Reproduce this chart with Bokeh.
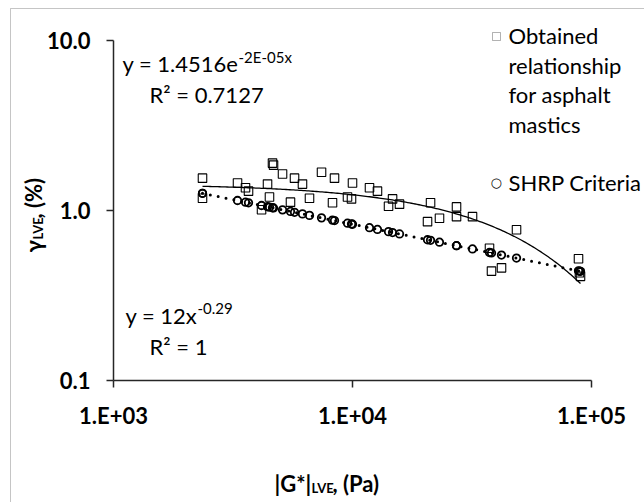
import numpy as np
from bokeh.plotting import figure
from bokeh.models import Label, FixedTicker, PolyAnnotation, Range1d
from bokeh.embed import file_html
from bokeh.resources import INLINE

# |G*| at the LVE limit (Pa) for each mastic sample
g_star = [2357, 2357, 3303, 3567, 3672, 4163, 4410, 4494, 4627, 4672,
          5096, 5502, 5720, 6176, 6608, 7420, 8248, 8408, 9530, 9904,
          10000, 11780, 12720, 14150, 14710, 15730, 20600, 21210, 23120, 27240,
          27240, 31780, 37430, 38160, 42020, 48560, 88230, 89050, 89940]

# measured strain at the LVE limit (%)
gamma_mastic = [1.55, 1.18, 1.45, 1.36, 1.30, 1.01, 1.43, 1.20, 1.90, 1.85,
                1.64, 1.12, 1.55, 1.43, 1.18, 1.68, 1.11, 1.55, 1.20, 1.17,
                1.45, 1.36, 1.30, 1.06, 1.17, 1.09, 0.86, 1.11, 0.90, 1.05,
                0.92, 0.92, 0.60, 0.44, 0.46, 0.77, 0.52, 0.43, 0.41]

# SHRP criterion strain (%) at the same moduli
gamma_shrp = [1.262, 1.262, 1.145, 1.119, 1.110, 1.070, 1.053, 1.047, 1.038, 1.035,
              1.009, 0.987, 0.976, 0.955, 0.936, 0.905, 0.878, 0.873, 0.842, 0.833,
              0.830, 0.792, 0.774, 0.751, 0.742, 0.728, 0.673, 0.668, 0.651, 0.621,
              0.621, 0.594, 0.566, 0.563, 0.547, 0.525, 0.442, 0.440, 0.439]

x_ticks = [1e3, 1e4, 1e5]
x_tick_labels = ["1.E+03", "1.E+04", "1.E+05"]
y_ticks = [0.1, 1.0, 10.0]
y_tick_labels = ["0.1", "1.0", "10.0"]

FONT = "Lato"
INK = "#000000"
W, H = 644, 502

# The plotting frame spans the whole canvas so that the legend, equations and
# axis titles can sit anywhere; the axes are pinned to the decade bounds.
# Axis placement: 1e3..1e5 over x = 113..591 px, 10..0.1 over y = 40..380 px.
X0, DEC_X = 113, 239.0
Y_ONE, DEC_Y = 210, 170.0
x_lo = 10 ** (3 - X0 / DEC_X)
x_hi = 10 ** (3 + (W - X0) / DEC_X)
y_hi = 10 ** (Y_ONE / DEC_Y)
y_lo = 10 ** ((Y_ONE - H) / DEC_Y)

p = figure(width=W, height=H, x_axis_type="log", y_axis_type="log",
           x_range=Range1d(x_lo, x_hi), y_range=Range1d(y_lo, y_hi),
           output_backend="svg", toolbar_location=None,
           min_border=0)
p.outline_line_color = None
p.xgrid.grid_line_color = None
p.ygrid.grid_line_color = None
p.background_fill_color = "white"
p.border_fill_color = "white"

for ax, ticks, labels in ((p.xaxis[0], x_ticks, x_tick_labels),
                          (p.yaxis[0], y_ticks, y_tick_labels)):
    ax.ticker = FixedTicker(ticks=ticks, minor_ticks=[])
    ax.major_label_overrides = dict(zip(ticks, labels))
    ax.bounds = (ticks[0], ticks[-1])
    ax.axis_line_color = "#262626"
    ax.axis_line_width = 1.5
    ax.major_tick_line_color = "#262626"
    ax.major_tick_line_width = 1.5
    ax.major_tick_in = 0
    ax.major_tick_out = 7
    ax.minor_tick_line_color = None
    ax.major_label_text_font = FONT
    ax.major_label_text_font_style = "bold"
    ax.major_label_text_font_size = "22px"
    ax.major_label_text_color = INK
p.xaxis.fixed_location = y_ticks[0]
p.yaxis.fixed_location = x_ticks[0]
p.xaxis.major_label_standoff = 14
p.yaxis.major_label_standoff = 16

# labels render a little below their nominal baseline; compensate
SHIFT = 9


def label(px, py, text, size, bold=False, angle=0.0, font=FONT):
    """Text whose baseline starts at canvas pixel (px, py)."""
    if angle:
        px -= SHIFT
    else:
        py -= SHIFT
    p.add_layout(Label(x=px, y=H - py, x_units="screen", y_units="screen",
                       text=text, text_font=font, text_font_size=f"{size}px",
                       text_font_style="bold" if bold else "normal",
                       text_align="left", text_baseline="alphabetic",
                       angle=angle, text_color=INK))


def outline(pxs, pys, width=1.0, color="#404040"):
    p.add_layout(PolyAnnotation(xs=list(pxs), ys=[H - v for v in pys],
                                xs_units="screen", ys_units="screen",
                                fill_color=None, line_color=color, line_width=width))


# chart-area border (left and top edges)
outline([10, 10, 900, 900], [900, 8, 8, 900])

# fitted trendlines
xs = np.asarray(g_star, dtype=float)
b_exp, ln_a = np.polyfit(xs, np.log(gamma_mastic), 1)
b_pow, ln_c = np.polyfit(np.log(xs), np.log(gamma_shrp), 1)
xfit = np.logspace(np.log10(xs.min()), np.log10(xs.max()), 200)
p.line(xfit, np.exp(ln_a) * np.exp(b_exp * xfit), line_color=INK, line_width=1.3)
p.line(xfit, np.exp(ln_c) * xfit ** b_pow, line_color=INK, line_width=3,
       line_dash="0 8", line_cap="round")

p.scatter(g_star, gamma_mastic, marker="square", size=8.5, fill_color=None,
          line_color=INK, line_width=1.1)
p.scatter(g_star, gamma_shrp, marker="circle", size=7.5, fill_color=None,
          line_color=INK, line_width=1.8)

# trendline equations
label(122, 72, "y = 1.4516e", 22)
label(238, 65, "-2E-05x", 15)
label(149, 103, "R² = 0.7127", 22)
label(125, 324, "y = 12x", 22)
label(197, 317, "-0.29", 15)
label(149, 355, "R² = 1", 22)

# legend
hw = 4
outline([496 - hw, 496 + hw, 496 + hw, 496 - hw], [36 - hw, 36 - hw, 36 + hw, 36 + hw],
        color=INK)
label(490, 191, "○", 13, bold=True, font="DejaVu Sans")
label(508, 44, "Obtained", 22)
label(508, 74, "relationship", 22)
label(508, 103, "for asphalt", 22)
label(508, 133, "mastics", 22)
label(508, 191, "SHRP Criteria", 22)

# axis titles
label(274, 492, "|G*|", 22, bold=True)
label(311, 496, "LVE", 13, bold=True)
label(332, 492, ", (Pa)", 22, bold=True)
label(42, 252, "γ", 22, bold=True, angle=np.pi / 2)
label(46, 239, "LVE", 13, bold=True, angle=np.pi / 2)
label(42, 218, ", (%)", 22, bold=True, angle=np.pi / 2)

open("out.html", "w").write(file_html(p, INLINE))
